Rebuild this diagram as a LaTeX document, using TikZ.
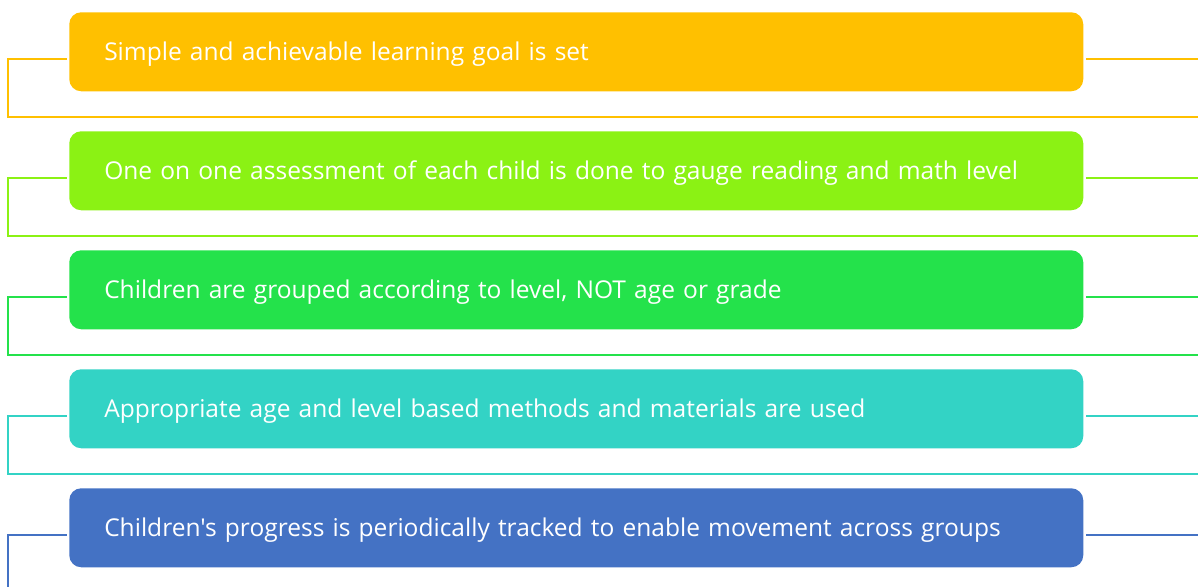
\documentclass[tikz,border=0pt]{standalone}
\usepackage{fontspec}
\setmainfont{Open Sans}[Ligatures=TeXOff]
\definecolor{cA}{HTML}{FFC000}
\definecolor{cB}{HTML}{8BF214}
\definecolor{cC}{HTML}{24E24B}
\definecolor{cD}{HTML}{33D3C5}
\definecolor{cE}{HTML}{4472C4}
\tikzset{
  stepbox/.style={rounded corners=9pt, draw=none, text=white, align=left,
    text width=708pt, inner xsep=26.25pt, inner ysep=0pt,
    text height=13.1pt, text depth=0pt,
    minimum height=59.25pt, font=\fontsize{18.4}{22}\selectfont, anchor=north west},
  link/.style={line width=1.5pt}
}
\begin{document}
\begin{tikzpicture}[x=0.75pt,y=-0.75pt]
\useasboundingbox (0,0) rectangle (1198,586);
\foreach \i/\col/\txt in {
  0/cA/{Simple and achievable learning goal is set},
  1/cB/{One on one assessment of each child is done to gauge reading and math level},
  2/cC/{Children are grouped according to level, NOT age or grade},
  3/cD/{Appropriate age and level based methods and materials are used},
  4/cE/{Children's progress is periodically tracked to enable movement across groups}}{
  \pgfmathsetmacro{\ytop}{12+119*\i}
  \pgfmathsetmacro{\yc}{59+119*\i}
  \node[stepbox, fill=\col] (b\i) at (69,\ytop) {\txt};
  \coordinate (l\i) at (66.5,\yc);
  \coordinate (c\i) at (7.5,\yc);
  \coordinate (r\i) at (1086,\yc);
  \coordinate (re\i) at (1198,\yc);
  \draw[link, draw=\col] (r\i) -- (re\i);
}
\foreach \i/\col in {0/cA,1/cB,2/cC,3/cD}{
  \pgfmathsetmacro{\yb}{117+119*\i}
  \coordinate (d\i) at (7.5,\yb);
  \coordinate (e\i) at (1198,\yb);
  \draw[link, draw=\col] (l\i) -- (c\i) -- (d\i) -- (e\i);
}
\coordinate (d4) at (7.5,590);
\draw[link, draw=cE] (l4) -- (c4) -- (d4);
\end{tikzpicture}
\end{document}
